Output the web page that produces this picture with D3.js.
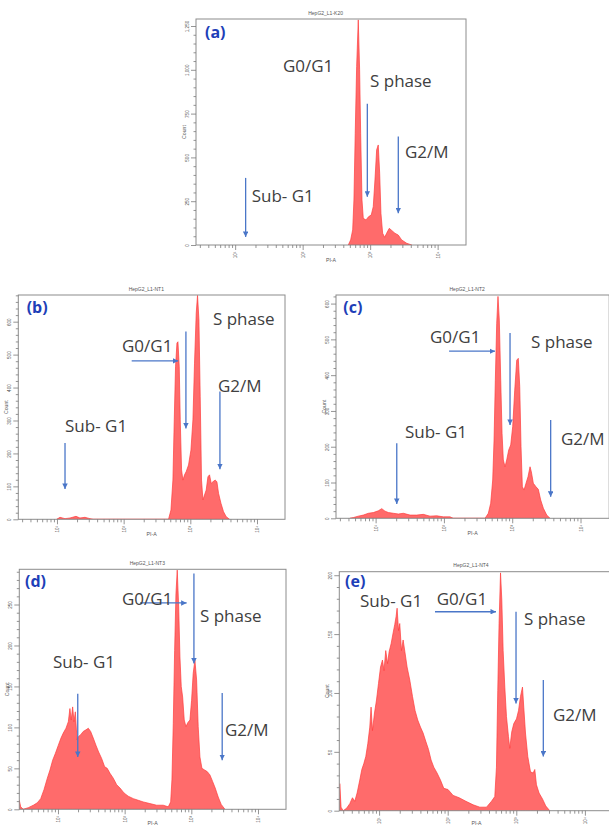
<!DOCTYPE html>
<html>
<head>
<meta charset="utf-8">
<script src="https://cdn.jsdelivr.net/npm/d3@7/dist/d3.min.js"></script>
<style>
  html, body { margin: 0; padding: 0; background: #ffffff; }
  svg { display: block; }
</style>
</head>
<body>
<svg id="fig" width="609" height="827"></svg>
<script>
// ---- PI-A histograms, one per sample: [PI-A intensity, cell count] ----
const histA = [[474,0],[514,29],[551,86],[575,257],[601,638],[631,1019],[667,1285],[698,1000],[723,638],[757,257],[791,152],[867,143],[951,162],[1038,171],[1112,219],[1178,371],[1248,543],[1318,571],[1383,410],[1445,181],[1531,67],[1641,44],[1754,67],[1919,95],[2104,82],[2328,67],[2606,57],[2929,29],[3475,10],[4121,0]];

const histB = [[9.9,0],[11.1,6],[13.2,2],[15.7,4],[19.3,9],[22.1,4],[26.3,6],[31.3,2],[35,0],
  [471,0],[512,28],[548,119],[574,302],[600,463],[630,535],[652,539],[682,463],[706,302],[739,150],[774,119],[819,135],[868,145],[940,165],[1021,210],[1094,302],[1156,474],[1226,626],[1282,680],[1346,605],[1407,372],[1472,119],[1545,59],[1633,74],[1731,89],[1837,129],[1941,135],[2057,109],[2181,114],[2361,119],[2505,114],[2649,79],[2877,49],[3148,23],[3452,8],[3873,0]];

const histC = [[4.2,0],[4.72,2],[5.58,6],[6.61,9],[7.82,14],[9.25,16],[10.96,21],[12.3,27],[13.7,20],[15.4,16],[18.2,14],[21.5,12],[25.5,14],[31.9,9],[40,9],[49.9,11],[62.5,6],[78.5,7],[98,4],[123,4],[137,0],
  [400,0],[447,14],[484,42],[518,107],[542,219],[566,386],[593,545],[619,620],[647,554],[679,386],[710,237],[741,163],[785,144],[830,163],[889,191],[951,205],[1016,256],[1088,358],[1164,442],[1228,447],[1288,368],[1346,200],[1407,88],[1489,79],[1593,98],[1703,116],[1824,144],[1905,130],[2037,98],[2229,88],[2410,81],[2612,51],[2858,28],[3199,9],[3573,0]];

const histD = [[2.63,11],[2.76,3],[3.02,0],[3.59,2],[4.27,5],[4.90,8],[5.51,13],[6.17,24],[6.92,38],[7.59,48],[8.33,60],[9.12,68],[10.1,78],[11.1,87],[12.0,93],[13.2,99],[14.3,107],[15.1,123],[15.8,109],[16.6,125],[17.4,107],[18.2,119],[19.3,85],[20.4,89],[21.9,91],[23.9,95],[26.3,97],[28.5,99],[30.9,95],[33.8,87],[37.2,78],[40.7,70],[45.2,62],[50.1,52],[54.8,50],[60.2,44],[67.5,38],[75.9,30],[85.1,26],[97.7,20],[113,16],[135,13],[160,11],[190,9],[239,7],[302,5],[379,5],[451,3],
  [490,9],[512,36],[536,105],[562,194],[588,263],[615,292],[646,247],[675,186],[706,150],[741,137],[783,109],[830,101],[889,106],[953,109],[1009,133],[1067,166],[1132,182],[1200,158],[1268,101],[1346,64],[1442,50],[1581,48],[1730,46],[1901,42],[2085,34],[2281,26],[2529,15],[2805,6],[3190,0]];

const histE = [[2.67,23],[2.79,3],[2.99,0],[3.35,2],[3.74,6],[4.09,11],[4.42,8],[4.78,15],[5.23,26],[5.60,35],[5.99,40],[6.40,46],[6.85,57],[7.32,71],[7.64,88],[8.01,68],[8.57,83],[9.17,94],[9.80,108],[10.5,122],[11.2,128],[11.8,119],[12.5,136],[13.3,125],[14.0,135],[15.0,142],[16.0,151],[16.9,158],[17.7,165],[18.3,172],[19.2,153],[20.0,159],[21.2,136],[22.4,145],[23.9,134],[25.6,122],[28.0,111],[30.7,97],[33.5,85],[36.6,77],[40.1,71],[43.8,66],[47.9,59],[52.5,52],[57.3,43],[62.7,37],[70.0,32],[78.5,26],[87.7,19],[101,18],[120,13],[147,11],[184,8],[235,5],[294,3],[368,3],
  [435,8],[486,12],[514,37],[537,102],[561,159],[589,202],[615,179],[643,136],[680,105],[719,80],[769,63],[804,53],[859,67],[920,74],[1007,78],[1077,85],[1151,97],[1231,105],[1285,88],[1361,66],[1471,46],[1611,33],[1758,32],[1861,35],[1968,22],[2148,15],[2409,10],[2692,4],[3076,0]];

// ---- axes ----
const piRange = [2.63, 26300];                 // PI-A axis extent (log)
const xTickValues = [10, 100, 1000, 10000];
const xTickLabels = ["10\u00B9", "10\u00B2", "10\u00B3", "10\u2074"];
const countMax = [1290, 681, 624, 293, 203];
const yTicksA = [0, 250, 500, 750, 1000, 1250];
const yTicksB = [0, 100, 200, 300, 400, 500, 600];
const yTicksC = [0, 100, 200, 300, 400, 500, 600];
const yTicksD = [0, 50, 100, 150, 200, 250];
const yTicksE = [0, 50, 100, 150, 200];
const yMinorStep = [50, 20, 20, 10, 10];

// ---- text ----
const titles = ["HepG2_L1-K20", "HepG2_L1-NT1", "HepG2_L1-NT2", "HepG2_L1-NT3", "HepG2_L1-NT4"];
const panelTags = ["(a)", "(b)", "(c)", "(d)", "(e)"];
const phaseNames = ["Sub- G1", "G0/G1", "S phase", "G2/M"];
const xAxisTitle = "PI-A";
const yAxisTitle = "Count";

// ---- phase annotations in data units: label anchor [PI-A, count] per phase ----
const labelPosA = [[17.6,247],[51,990],[995,901],[3281,497]];
const labelPosB = [[13.2,266],[94.4,509],[2183,590],[2594,388]];
const labelPosC = [[26.9,224],[62.5,490],[1884,476],[5176,205]];
const labelPosD = [[8.41,172],[91.2,249],[1346,229],[3192,89]];
const labelPosE = [[5.27,173],[69.2,175],[1294,158],[3428,76]];

// arrows: [[PI-A, count] tail, [PI-A, count] head]
const arrowsA = [[[14.3,383],[14.3,46]], [[908,806],[908,276]], [[2612,619],[2612,181]]];
const arrowsB = [[[13.2,232],[13.2,92]], [[132,481],[659,481]], [[859,570],[859,276]], [[2780,388],[2780,152]]];
const arrowsC = [[[20.4,210],[20.4,40]], [[119,467],[560,467]], [[929,518],[929,261]], [[3656,275],[3656,60]]];
const arrowsD = [[[19.8,141],[19.8,64]], [[170,252],[851,252]], [[1094,288],[1094,178]], [[2904,142],[2904,60]]];
const arrowsE = [[[65.3,169],[506,169]], [[991,169],[991,91]], [[2477,111],[2477,46]]];

// ---- layout ----
const layout = [
  { box: { x: 196,   y: 19,    w: 270,   h: 226 },   tag: [9, 19] },
  { box: { x: 18.3,  y: 295,   w: 266.7, h: 224.3 }, tag: [8.4, 18] },
  { box: { x: 336,   y: 295,   w: 273.2, h: 223.3 }, tag: [7.3, 18] },
  { box: { x: 19.3,  y: 569.3, w: 266.7, h: 240 },   tag: [5.7, 17.2] },
  { box: { x: 339.3, y: 571.7, w: 274.4, h: 239 },   tag: [5.7, 14.8] }
];
const FIG_H = 827;

const COLORS = {
  fill: "#ff6b6b", edge: "#ff3c3c", frame: "#8c8c8c", tick: "#7a7a7a",
  small: "#555555", phase: "#404040", arrow: "#4a76c8", tag: "#1e3fb8"
};

const panels = [
  { hist: histA, yTicks: yTicksA, labels: labelPosA, arrows: arrowsA },
  { hist: histB, yTicks: yTicksB, labels: labelPosB, arrows: arrowsB },
  { hist: histC, yTicks: yTicksC, labels: labelPosC, arrows: arrowsC },
  { hist: histD, yTicks: yTicksD, labels: labelPosD, arrows: arrowsD },
  { hist: histE, yTicks: yTicksE, labels: labelPosE, arrows: arrowsE }
];

const svg = d3.select("#fig");
const defs = svg.append("defs");

defs.append("marker")
  .attr("id", "arrowHead")
  .attr("viewBox", "0 0 6 6")
  .attr("refX", 6).attr("refY", 3)
  .attr("markerWidth", 5.5).attr("markerHeight", 5.5)
  .attr("markerUnits", "userSpaceOnUse")
  .attr("orient", "auto")
  .append("path").attr("d", "M0,0L6,3L0,6Z").attr("fill", COLORS.arrow);

// minor log ticks 2..9 within each decade of the axis
function logMinorTicks(domain) {
  const out = [];
  for (let e = Math.floor(Math.log10(domain[0])); e < Math.ceil(Math.log10(domain[1])); e++) {
    for (let m = 2; m <= 9; m++) {
      const v = m * Math.pow(10, e);
      if (v >= domain[0] && v <= 10000) out.push(v);
    }
  }
  return out;
}

function styleAxis(sel) {
  sel.select(".domain").remove();
  sel.selectAll("line").attr("stroke", COLORS.tick).attr("stroke-width", 0.8);
  sel.selectAll("text").remove();
}

panels.forEach((p, i) => {
  const { x: L, y: T, w: W, h: H } = layout[i].box;
  const g = svg.append("g");

  const x = d3.scaleLog().domain(piRange).range([L, L + W]);
  const y = d3.scaleLinear().domain([0, countMax[i]]).range([T + H, T]);

  const clipId = "plotClip" + i;
  defs.append("clipPath").attr("id", clipId)
    .append("rect").attr("x", L).attr("y", T).attr("width", W).attr("height", H);

  // histogram
  const area = d3.area()
    .x(d => x(d[0]))
    .y0(y(0))
    .y1(d => y(d[1]))
    .curve(d3.curveLinear);

  g.append("path")
    .datum(p.hist)
    .attr("clip-path", `url(#${clipId})`)
    .attr("d", area)
    .attr("fill", COLORS.fill)
    .attr("stroke", COLORS.edge)
    .attr("stroke-width", 0.7)
    .attr("stroke-linejoin", "round");

  // plot frame
  g.append("rect")
    .attr("x", L).attr("y", T).attr("width", W).attr("height", H)
    .attr("fill", "none").attr("stroke", COLORS.frame).attr("stroke-width", 1);

  // y axis: major + minor ticks
  const minorY = d3.range(0, countMax[i], yMinorStep[i]).filter(v => !p.yTicks.includes(v));
  g.append("g").attr("transform", `translate(${L},0)`)
    .call(d3.axisLeft(y).tickValues(minorY).tickSize(2.5).tickFormat(""))
    .call(styleAxis);
  const yMajor = g.append("g").attr("transform", `translate(${L},0)`)
    .call(d3.axisLeft(y).tickValues(p.yTicks).tickSize(5))
    .call(styleAxis);
  yMajor.selectAll(".tick").append("text")
    .attr("transform", "translate(-7,0) rotate(-90)")
    .attr("text-anchor", "middle")
    .attr("font-family", "Liberation Sans, Arial, sans-serif")
    .attr("font-size", 4.6)
    .attr("fill", COLORS.small)
    .text(d => d3.format(",")(d));

  // x axis: decades + log minor ticks
  const minorX = logMinorTicks(piRange).filter(v => !xTickValues.includes(v));
  g.append("g").attr("transform", `translate(0,${T + H})`)
    .call(d3.axisBottom(x).tickValues(minorX).tickSize(3).tickFormat(""))
    .call(styleAxis);
  const xMajor = g.append("g").attr("transform", `translate(0,${T + H})`)
    .call(d3.axisBottom(x).tickValues(xTickValues).tickSize(5))
    .call(styleAxis);
  xMajor.selectAll(".tick").append("text")
    .attr("transform", "translate(0,10) rotate(-90)")
    .attr("text-anchor", "middle")
    .attr("dy", "0.35em")
    .attr("font-family", "Liberation Sans, Arial, sans-serif")
    .attr("font-size", 4.6)
    .attr("fill", COLORS.small)
    .text((d, k) => xTickLabels[k]);

  // axis titles and sample name
  g.append("text")
    .attr("x", L + W * 0.5).attr("y", Math.min(T + H + 17, FIG_H - 2))
    .attr("text-anchor", "middle")
    .attr("font-family", "Liberation Sans, Arial, sans-serif")
    .attr("font-size", 5.2).attr("fill", COLORS.small)
    .text(xAxisTitle);
  g.append("text")
    .attr("transform", `translate(${L - 10},${T + H / 2}) rotate(-90)`)
    .attr("text-anchor", "middle")
    .attr("font-family", "Liberation Sans, Arial, sans-serif")
    .attr("font-size", 5.2).attr("fill", COLORS.small)
    .text(yAxisTitle);
  g.append("text")
    .attr("x", L + W * 0.48).attr("y", T - 4.5)
    .attr("text-anchor", "middle")
    .attr("font-family", "Liberation Sans, Arial, sans-serif")
    .attr("font-size", 5).attr("fill", COLORS.small)
    .text(titles[i]);

  // panel tag
  g.append("text")
    .attr("x", L + layout[i].tag[0]).attr("y", T + layout[i].tag[1])
    .attr("font-family", "Open Sans, sans-serif")
    .attr("font-weight", 700).attr("font-size", 16)
    .attr("fill", COLORS.tag)
    .text(panelTags[i]);

  // phase arrows
  g.selectAll("line.arrow").data(p.arrows).join("line")
    .attr("class", "arrow")
    .attr("x1", d => x(d[0][0])).attr("y1", d => y(d[0][1]))
    .attr("x2", d => x(d[1][0])).attr("y2", d => y(d[1][1]))
    .attr("stroke", COLORS.arrow).attr("stroke-width", 1.3)
    .attr("marker-end", "url(#arrowHead)");

  // phase labels
  g.selectAll("text.phase").data(p.labels).join("text")
    .attr("class", "phase")
    .attr("x", d => x(d[0])).attr("y", d => y(d[1]))
    .attr("font-family", "Open Sans, sans-serif")
    .attr("font-size", 17)
    .attr("fill", COLORS.phase)
    .text((d, k) => phaseNames[k]);
});
</script>
</body>
</html>
